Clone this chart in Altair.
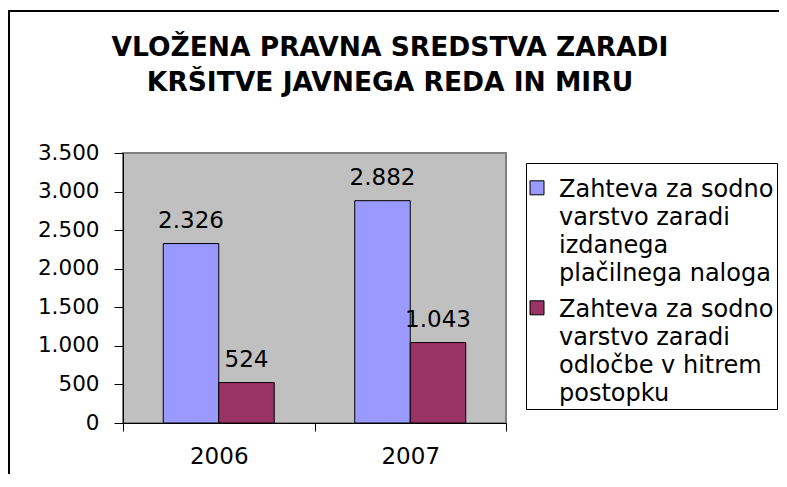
import altair as alt
import pandas as pd

years = ["2006", "2007"]
series = [
    "Zahteva za sodno\nvarstvo zaradi\nizdanega\nplačilnega naloga",
    "Zahteva za sodno\nvarstvo zaradi\nodločbe v hitrem\npostopku",
]
values_s1 = [2326, 2882]
values_s2 = [524, 1043]
colors = ["#9999FF", "#993366"]
y_ticks = [0, 500, 1000, 1500, 2000, 2500, 3000, 3500]
title_lines = ["VLOŽENA PRAVNA SREDSTVA ZARADI", "KRŠITVE JAVNEGA REDA IN MIRU"]

rows = []
for i, yr in enumerate(years):
    rows.append({"year": yr, "series": series[0], "value": values_s1[i]})
    rows.append({"year": yr, "series": series[1], "value": values_s2[i]})
df = pd.DataFrame(rows)

FONT = "DejaVu Sans"
fmt_expr = "replace(format(datum.value, ','), ',', '.')"

x_enc = alt.X(
    "year:N",
    sort=years,
    scale=alt.Scale(paddingInner=0, paddingOuter=0),
    axis=alt.Axis(
        title=None, labelAngle=0, tickBand="extent", tickSize=8,
        labelFont=FONT, labelFontSize=23, labelColor="black", labelPadding=14,
        domainColor="black", tickColor="black",
    ),
)
xoff_enc = alt.XOffset("series:N", sort=series,
                       scale=alt.Scale(paddingInner=0, paddingOuter=0.725))
y_enc = alt.Y(
    "value:Q",
    scale=alt.Scale(domain=[0, 3500], nice=False),
    axis=alt.Axis(
        title=None, values=y_ticks, grid=False, tickSize=9,
        labelExpr=fmt_expr, labelFont=FONT, labelFontSize=21.5,
        labelColor="black", labelPadding=15, labelOverlap=False,
        domainColor="black", tickColor="black",
    ),
)

base = alt.Chart(df)

bars = base.mark_bar(stroke="black", strokeWidth=1).encode(
    x=x_enc,
    xOffset=xoff_enc,
    y=y_enc,
    color=alt.Color(
        "series:N",
        sort=series,
        scale=alt.Scale(domain=series, range=colors),
        legend=alt.Legend(
            title=None, orient="none", legendX=403, legendY=10,
            labelExpr="split(datum.label, '\\n')",
            labelFont=FONT, labelFontSize=24, labelColor="black",
            labelBaseline="top", labelOffset=10, labelLimit=400,
            symbolType="M-1,0.4H1V2.4H-1Z", symbolSize=196, symbolOffset=-4,
            symbolStrokeColor="black", symbolStrokeWidth=1, symbolOpacity=1,
            padding=3, rowPadding=0,
            fillColor="white", strokeColor="black",
        ),
    ),
)

labels = base.mark_text(
    font=FONT, fontSize=23, color="black", baseline="alphabetic", dy=-16
).transform_calculate(
    label=fmt_expr
).encode(
    x=x_enc,
    xOffset=xoff_enc,
    y=y_enc,
    text="label:N",
)

border = alt.Chart(alt.Data(values=[{"b": 1}])).mark_rect(
    fill=None, stroke="black", strokeWidth=2, clip=False
).encode(
    x=alt.value(-114), x2=alt.value(700),
    y=alt.value(-142), y2=alt.value(400),
)

chart = alt.layer(bars, labels, border).properties(
    width=383,
    height=270,
    padding={"left": 115, "top": 145, "right": 273, "bottom": 51},
    autosize=alt.AutoSizeParams(type="none"),
    title=alt.TitleParams(
        text=title_lines, font=FONT, fontSize=26.5, fontWeight="bold",
        color="black", lineHeight=35, anchor="middle", frame="group",
        baseline="top", dx=75.5, offset=-86.5,
    ),
).configure(
    background="white",
    style={"guide-label": {"lineHeight": 28}},
).configure_view(
    fill="#C0C0C0", stroke="#808080", strokeWidth=2,
)

chart.save("out.html", embed_options={"renderer": "svg", "actions": False})
